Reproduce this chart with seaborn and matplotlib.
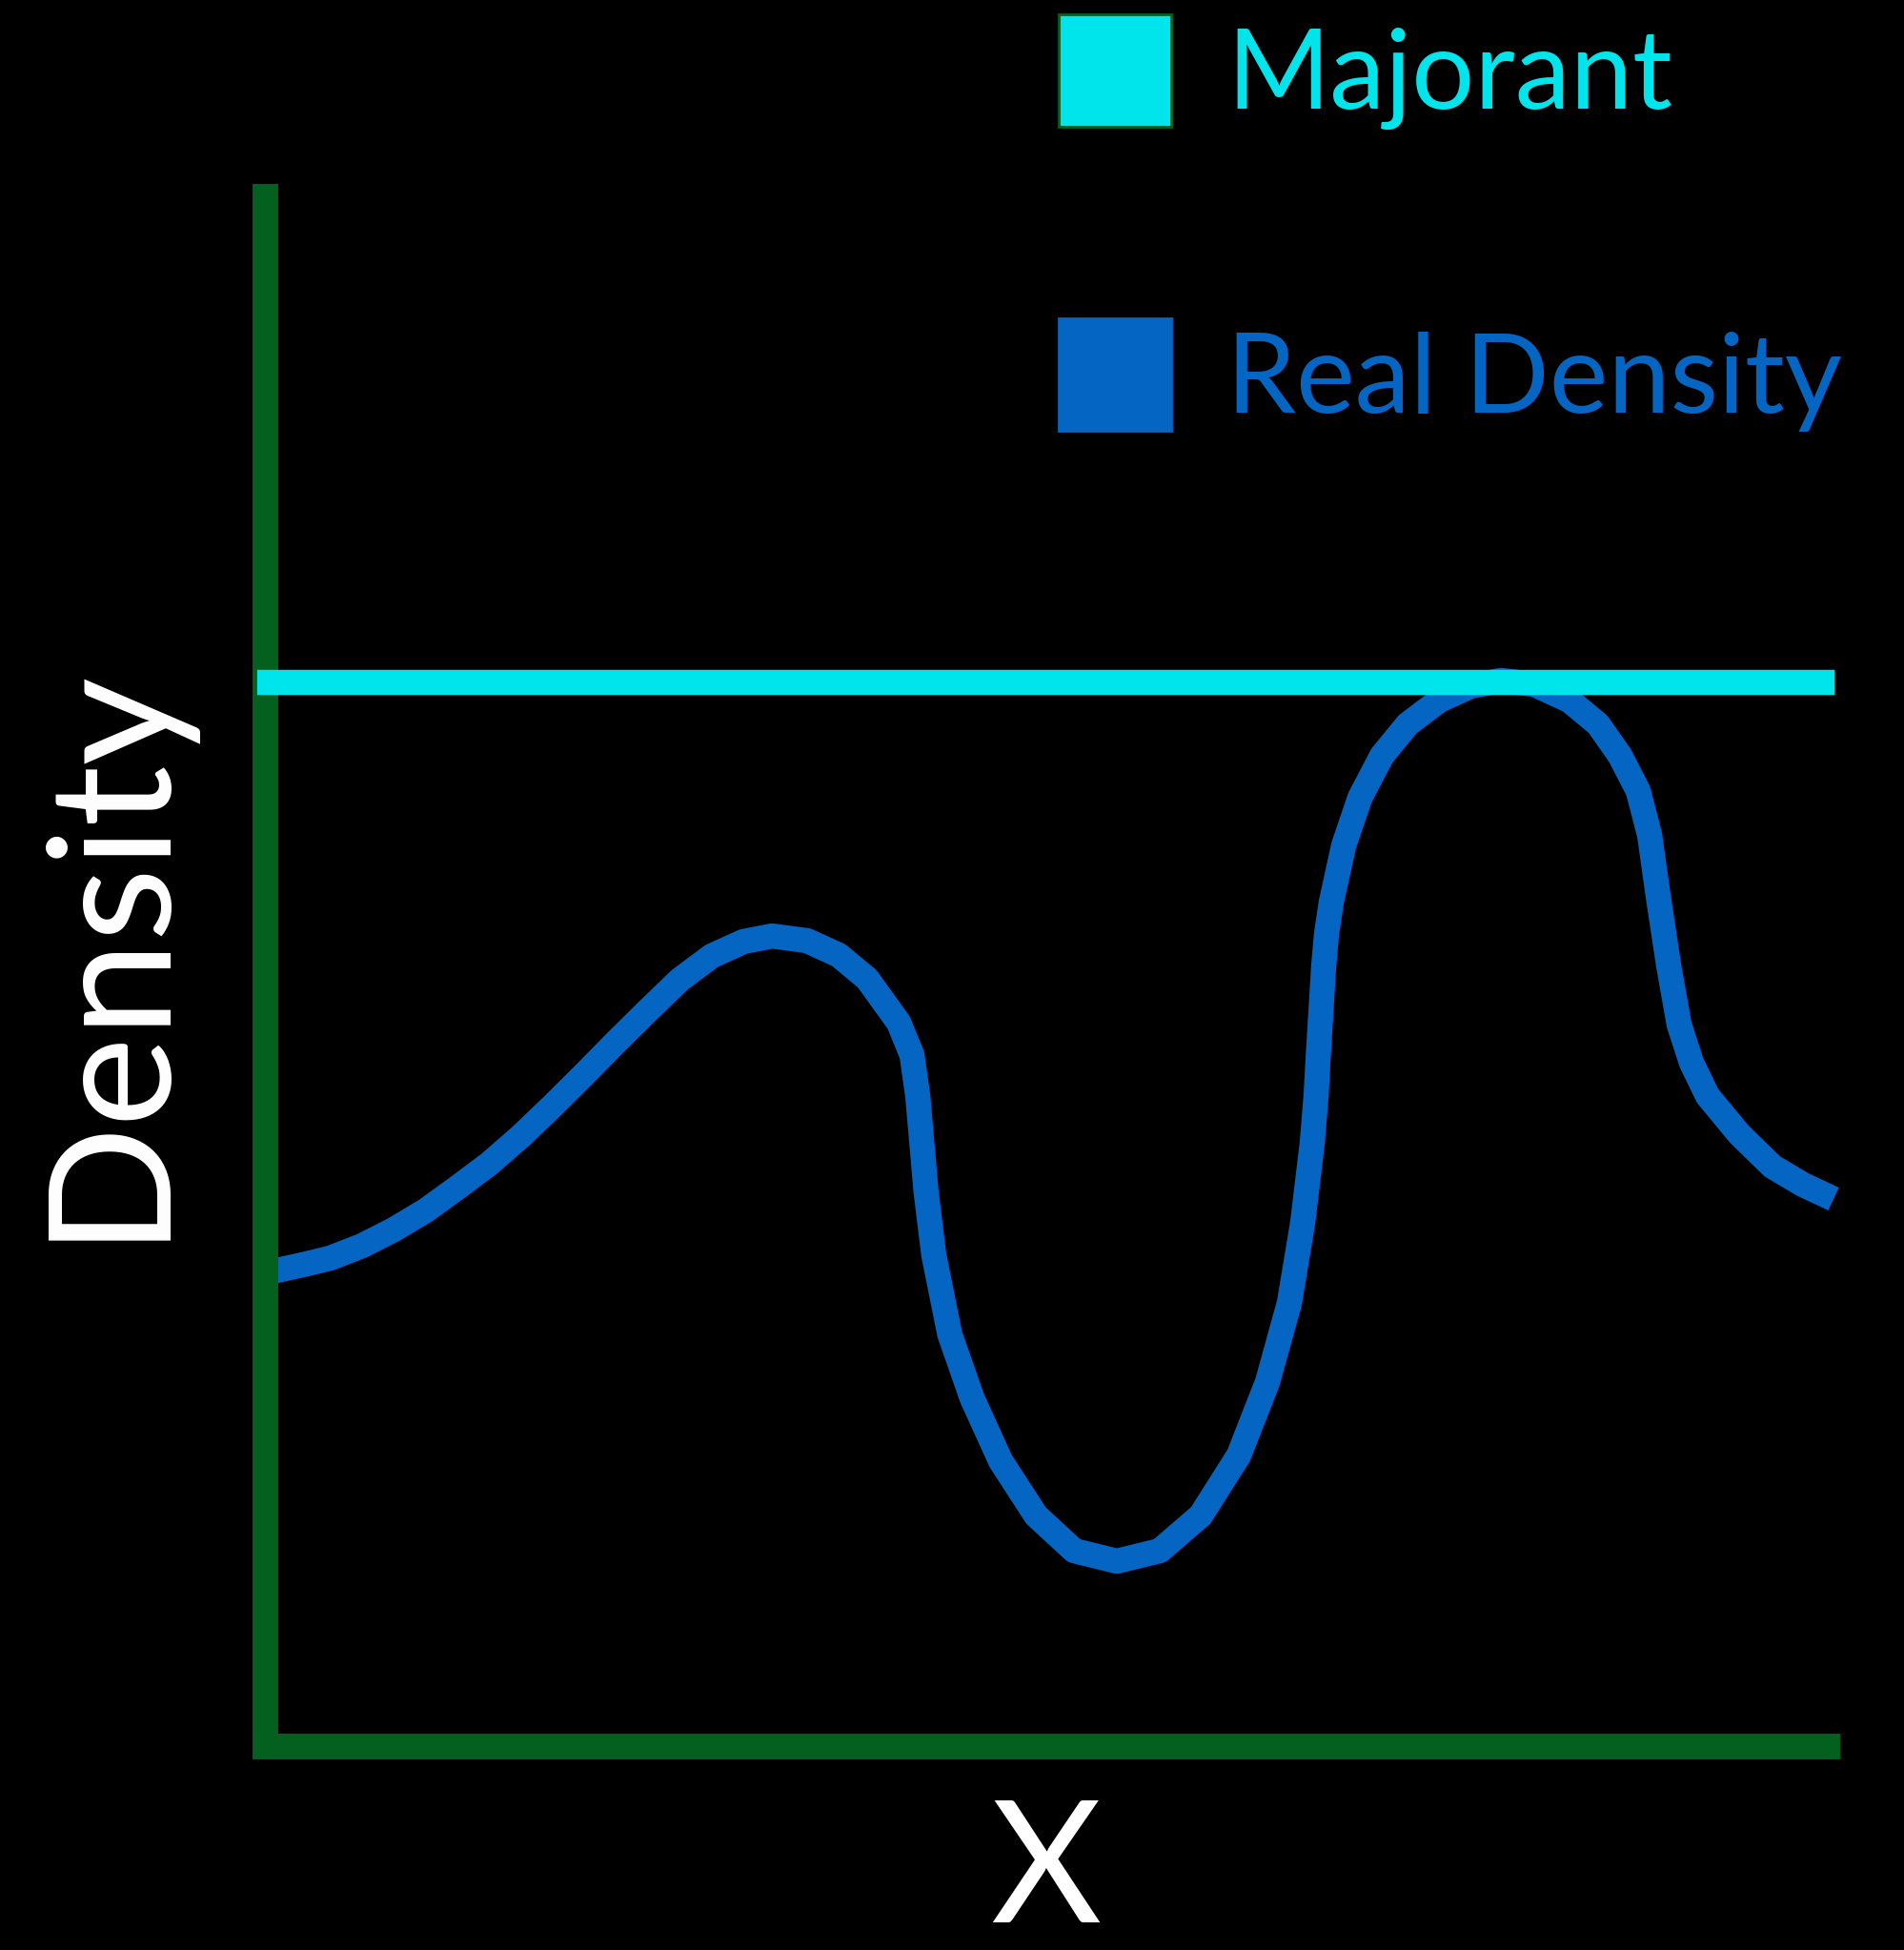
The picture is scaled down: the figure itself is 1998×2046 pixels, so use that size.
import matplotlib
matplotlib.use("Agg")
import matplotlib.pyplot as plt
from matplotlib.patches import Patch
import pandas as pd
import seaborn as sns

# Real density curve (x position, density)
x_real = [0.000, 0.084, 0.256, 0.419, 0.623, 0.826, 1.030, 1.233, 1.436, 1.640,
          1.843, 2.046, 2.250, 2.454, 2.657, 2.861, 3.064, 3.247, 3.471, 3.674,
          3.857, 4.059, 4.144, 4.181, 4.234, 4.284, 4.386, 4.529, 4.712, 4.938,
          5.182, 5.456, 5.731, 5.993, 6.237, 6.421, 6.561, 6.646, 6.707, 6.732,
          6.744, 6.781, 6.799, 6.829, 6.909, 7.013, 7.153, 7.318, 7.519, 7.721,
          7.916, 8.129, 8.355, 8.538, 8.679, 8.795, 8.868, 8.923, 8.990, 9.057,
          9.136, 9.240, 9.442, 9.655, 9.851, 10.046]
y_real = [0.3052, 0.3072, 0.3110, 0.3150, 0.3230, 0.3334, 0.3457, 0.3605, 0.3758, 0.3937,
          0.4133, 0.4336, 0.4545, 0.4748, 0.4945, 0.5098, 0.5191, 0.5227, 0.5197, 0.5104,
          0.4951, 0.4668, 0.4459, 0.4195, 0.3580, 0.3168, 0.2658, 0.2246, 0.1841, 0.1490,
          0.1263, 0.1195, 0.1263, 0.1490, 0.1878, 0.2351, 0.2861, 0.3377, 0.3888, 0.4195,
          0.4422, 0.5037, 0.5240, 0.5443, 0.5811, 0.6119, 0.6389, 0.6592, 0.6745, 0.6838,
          0.6875, 0.6850, 0.6745, 0.6592, 0.6389, 0.6162, 0.5879, 0.5485, 0.5037, 0.4656,
          0.4410, 0.4195, 0.3949, 0.3740, 0.3623, 0.3531]

# Majorant: constant bound over the whole range
x_major = [-0.05, 10.05]
y_major = [0.686, 0.686]

labels = ["Majorant", "Real Density"]
colors = ["#00E5EB", "#0465C3"]
edge_colors = ["#03601F", "#0465C3"]
axis_green = "#03601F"

real_df = pd.DataFrame({"x": x_real, "density": y_real})
major_df = pd.DataFrame({"x": x_major, "density": y_major})

sns.set_theme(style="white", rc={"figure.facecolor": "black", "axes.facecolor": "black",
                                 "savefig.facecolor": "black"})
plt.rcParams["font.family"] = ["Lato", "DejaVu Sans"]

fig = plt.figure(figsize=(19.98, 20.46), dpi=100)
ax = fig.add_axes([0.13914, 0.10435, 0.82007, 0.79521])

sns.lineplot(data=real_df, x="x", y="density", ax=ax, color=colors[1], linewidth=19,
             solid_capstyle="butt", solid_joinstyle="round", clip_on=False, zorder=2)
sns.lineplot(data=major_df, x="x", y="density", ax=ax, color=colors[0], linewidth=19,
             solid_capstyle="butt", clip_on=False, zorder=3)

ax.set_xlim(0, 10)
ax.set_ylim(0, 1)
ax.set_xticks([])
ax.set_yticks([])
for side in ["top", "right"]:
    ax.spines[side].set_visible(False)
for side in ["left", "bottom"]:
    ax.spines[side].set_color(axis_green)
    ax.spines[side].set_linewidth(19.4)

ax.set_xlabel("X", color="white", fontsize=129, labelpad=38)
ax.set_ylabel("Density", color="white", fontsize=129, labelpad=60)
ax.yaxis.label.set_y(0.5135)

handles = [Patch(facecolor=c, edgecolor=e, linewidth=2) for c, e in zip(colors, edge_colors)]
leg = ax.legend(handles, labels, loc="upper left", bbox_to_anchor=(0.5561, 0.9925),
                bbox_transform=fig.transFigure, frameon=False, fontsize=84,
                handlelength=1.01, handleheight=1.179, handletextpad=0.5,
                labelspacing=1.70, borderpad=0, borderaxespad=0)
for t, c in zip(leg.get_texts(), colors):
    t.set_color(c)

fig.savefig("out.png", dpi=100)
